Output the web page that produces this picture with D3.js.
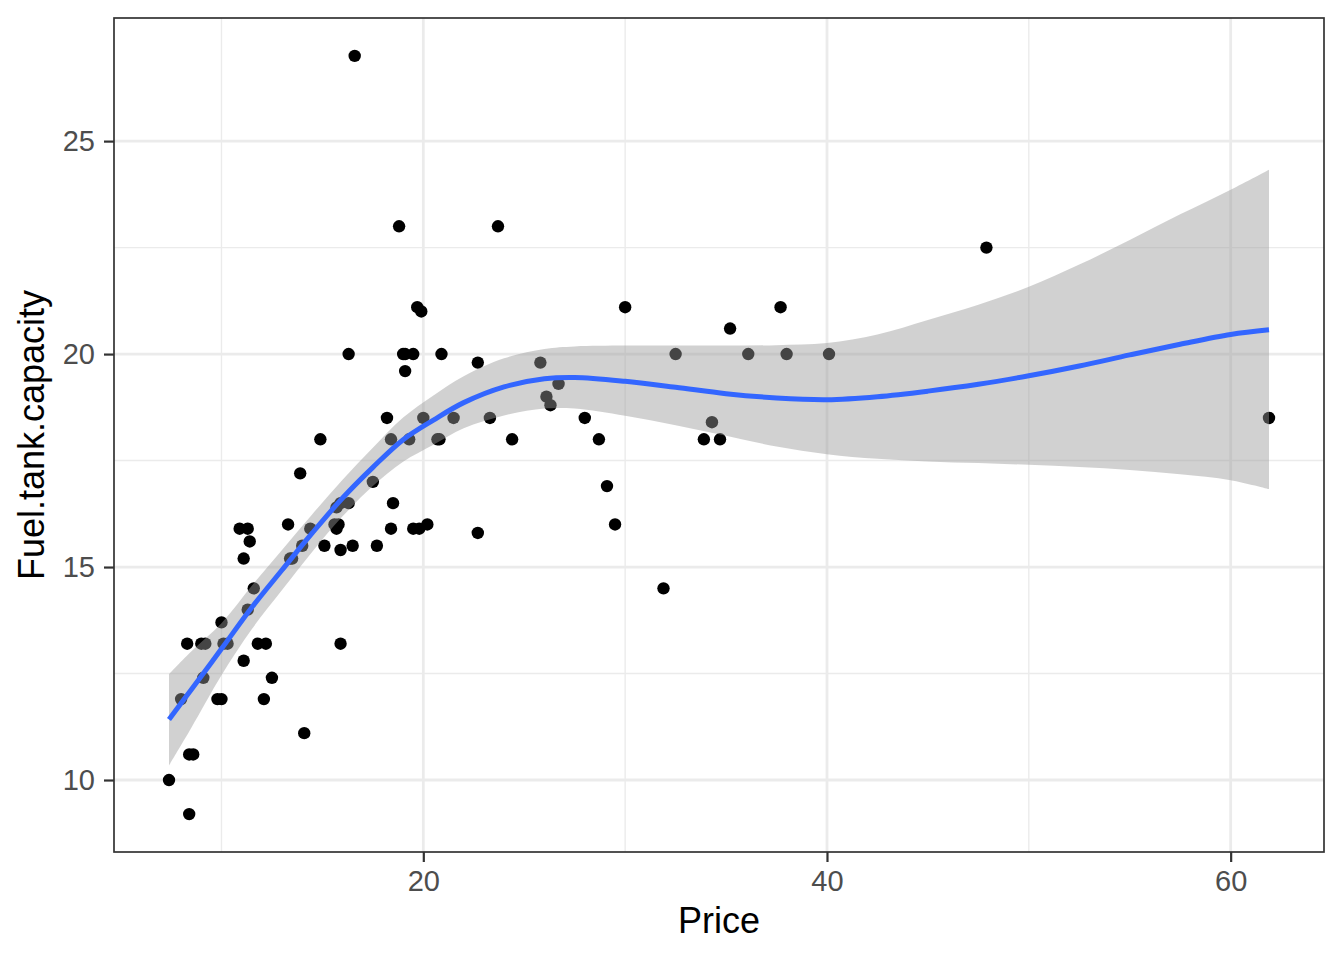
<!DOCTYPE html>
<html>
<head>
<meta charset="utf-8">
<script src="https://cdn.jsdelivr.net/npm/d3@7"></script>
<style>
  body { margin: 0; background: #fff; }
  svg { display: block; }
</style>
</head>
<body>
<div id="chart"></div>
<script>
// Cars93: Price vs Fuel.tank.capacity
var price = [15.9, 33.9, 29.1, 37.7, 30.0, 15.7, 20.8, 23.7, 26.3, 34.7,
             40.1, 13.4, 11.4, 15.1, 15.9, 16.3, 16.6, 18.8, 38.0, 18.4,
             15.8, 29.5, 9.2, 11.3, 13.3, 19.0, 15.6, 25.8, 12.2, 19.3,
             7.4, 10.1, 11.3, 15.9, 14.0, 19.9, 20.2, 20.9, 8.4, 12.5,
             19.8, 12.1, 17.5, 8.0, 10.0, 10.0, 13.9, 47.9, 28.0, 35.2,
             34.3, 36.1, 8.3, 11.6, 16.5, 19.1, 32.5, 31.9, 61.9, 14.1,
             14.9, 10.3, 26.1, 11.8, 15.7, 19.1, 21.5, 13.5, 16.3, 19.5,
             20.7, 14.4, 9.0, 11.1, 17.7, 18.5, 24.4, 28.7, 11.1, 8.4,
             10.9, 19.5, 8.6, 9.8, 18.4, 18.2, 22.7, 9.1, 19.7, 20.0,
             23.3, 22.7, 26.7];
var fuel = [13.2, 18.0, 16.9, 21.1, 21.1, 16.4, 18.0, 23.0, 18.8, 18.0,
            20.0, 15.2, 15.6, 15.5, 16.5, 20.0, 27.0, 23.0, 20.0, 18.0,
            16.0, 16.0, 13.2, 14.0, 16.0, 20.0, 16.0, 19.8, 13.2, 18.0,
            10.0, 13.2, 15.9, 15.4, 15.5, 21.0, 16.0, 20.0, 10.6, 12.4,
            15.9, 11.9, 17.0, 11.9, 13.7, 11.9, 17.2, 22.5, 18.5, 20.6,
            18.4, 20.0, 13.2, 14.5, 15.5, 19.6, 20.0, 14.5, 18.5, 11.1,
            18.0, 13.2, 19.0, 13.2, 15.9, 20.0, 18.5, 15.2, 16.5, 20.0,
            18.0, 15.9, 13.2, 15.2, 15.5, 16.5, 18.0, 18.0, 12.8, 9.2,
            15.9, 15.9, 10.6, 11.9, 15.9, 18.5, 19.8, 12.4, 21.1, 18.5,
            18.5, 15.8, 19.3];

// loess smooth: fit, lower and upper band
var smoothX   = [7.4, 8.5, 10, 11.5, 13, 14.5, 16, 17.5, 19, 20.5, 22, 24, 26, 27.5,
                 30, 32.5, 35, 37.5, 40, 42.5, 45, 47.5, 50, 52.5, 55, 57.5, 60, 61.9];
var smoothFit = [11.42, 12.12, 13.08, 14.05, 14.93, 15.80, 16.62, 17.34, 17.99, 18.45,
                 18.86, 19.23, 19.42, 19.45, 19.36, 19.22, 19.07, 18.97, 18.93, 19.00,
                 19.13, 19.29, 19.49, 19.72, 19.98, 20.23, 20.46, 20.57];
var smoothLo  = [10.34, 11.22, 12.46, 13.54, 14.46, 15.36, 16.19, 16.90, 17.47, 17.87,
                 18.26, 18.56, 18.72, 18.72, 18.55, 18.33, 18.08, 17.83, 17.65, 17.54,
                 17.48, 17.44, 17.40, 17.35, 17.28, 17.18, 17.04, 16.83];
var smoothHi  = [12.49, 13.02, 13.68, 14.56, 15.40, 16.24, 17.05, 17.80, 18.51, 19.03,
                 19.48, 19.90, 20.12, 20.18, 20.20, 20.20, 20.20, 20.21, 20.26, 20.46,
                 20.80, 21.16, 21.58, 22.10, 22.68, 23.28, 23.86, 24.33];

var xMajor = [20, 40, 60];
var xMinor = [10, 30, 50];
var yMajor = [10, 15, 20, 25];
var yMinor = [12.5, 17.5, 22.5];

function draw_chart() {
    var W = 1344, H = 960;
    var pLeft = 114, pRight = 1324, pTop = 18, pBottom = 852;
    var font = "Liberation Sans, Arial, sans-serif";

    var svg = d3.select("#chart").append("svg")
        .attr("width", W).attr("height", H);

    var x = d3.scaleLinear().domain([4.675, 64.625]).range([pLeft, pRight]);
    var y = d3.scaleLinear().domain([8.31, 27.89]).range([pBottom, pTop]);

    // grid lines, minor first then major
    var grid = svg.append("g");
    function vlines(vals, w) {
        grid.append("g").selectAll("line").data(vals).enter().append("line")
            .attr("x1", d => x(d)).attr("x2", d => x(d))
            .attr("y1", pTop).attr("y2", pBottom)
            .attr("stroke", "#ebebeb").attr("stroke-width", w);
    }
    function hlines(vals, w) {
        grid.append("g").selectAll("line").data(vals).enter().append("line")
            .attr("x1", pLeft).attr("x2", pRight)
            .attr("y1", d => y(d)).attr("y2", d => y(d))
            .attr("stroke", "#ebebeb").attr("stroke-width", w);
    }
    vlines(xMinor, 1.4);
    hlines(yMinor, 1.4);
    vlines(xMajor, 2.8);
    hlines(yMajor, 2.8);

    // points
    var pts = price.map((p, i) => ({p: p, f: fuel[i]}));
    svg.append("g").selectAll("circle").data(pts).enter().append("circle")
        .attr("cx", d => x(d.p))
        .attr("cy", d => y(d.f))
        .attr("r", 6.2)
        .attr("fill", "#000");

    // smooth band and line
    var sm = smoothX.map((v, i) => ({x: v, fit: smoothFit[i], lo: smoothLo[i], hi: smoothHi[i]}));
    var curve = d3.curveCatmullRom.alpha(0.5);
    var area = d3.area()
        .x(d => x(d.x)).y0(d => y(d.lo)).y1(d => y(d.hi))
        .curve(curve);
    svg.append("path").datum(sm)
        .attr("d", area)
        .attr("fill", "#999999").attr("fill-opacity", 0.45);

    var line = d3.line().x(d => x(d.x)).y(d => y(d.fit)).curve(curve);
    svg.append("path").datum(sm)
        .attr("d", line)
        .attr("fill", "none")
        .attr("stroke", "#3366ff")
        .attr("stroke-width", 5);

    // panel border
    svg.append("rect")
        .attr("x", pLeft).attr("y", pTop)
        .attr("width", pRight - pLeft).attr("height", pBottom - pTop)
        .attr("fill", "none").attr("stroke", "#333333").attr("stroke-width", 1.7);

    // axes
    var xAxis = svg.append("g")
        .attr("transform", "translate(0," + pBottom + ")")
        .call(d3.axisBottom(x).tickValues(xMajor).tickSize(10).tickPadding(8).tickFormat(d3.format("d")));
    var yAxis = svg.append("g")
        .attr("transform", "translate(" + pLeft + ",0)")
        .call(d3.axisLeft(y).tickValues(yMajor).tickSize(10).tickPadding(9).tickFormat(d3.format("d")));

    [xAxis, yAxis].forEach(function(a) {
        a.attr("font-family", font).attr("font-size", 29);
        a.select(".domain").remove();
        a.selectAll(".tick line").attr("stroke", "#333333").attr("stroke-width", 2.2);
        a.selectAll(".tick text").attr("fill", "#4d4d4d");
    });

    // axis titles
    svg.append("text")
        .attr("x", (pLeft + pRight) / 2).attr("y", 933)
        .attr("text-anchor", "middle")
        .attr("font-family", font)
        .attr("font-size", 36)
        .text("Price");

    svg.append("text")
        .attr("transform", "translate(44," + (pTop + pBottom) / 2 + ") rotate(-90)")
        .attr("text-anchor", "middle")
        .attr("font-family", font)
        .attr("font-size", 36)
        .text("Fuel.tank.capacity");
}

draw_chart();
</script>
</body>
</html>
